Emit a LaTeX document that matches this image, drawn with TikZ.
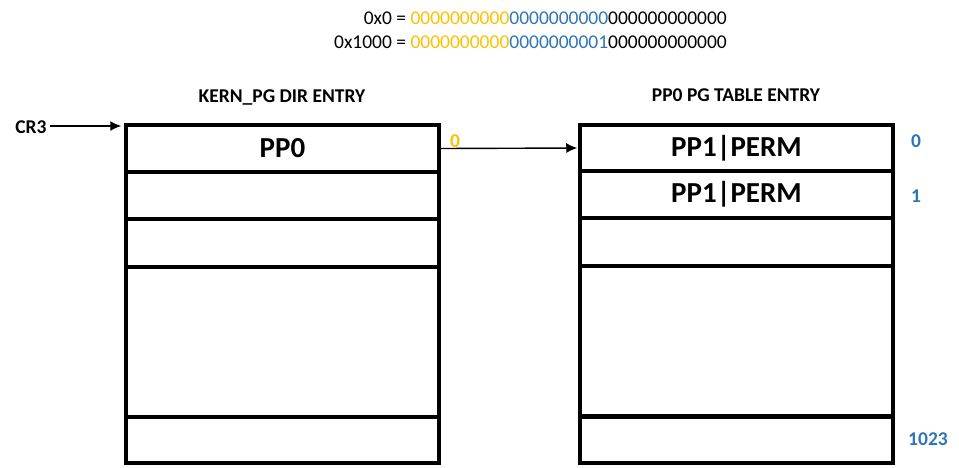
\documentclass[tikz,border=0pt]{standalone}
\usepackage{fontspec}
\setmainfont{Carlito}
\usetikzlibrary{arrows.meta}
\definecolor{ylw}{HTML}{FFC000}
\definecolor{blu}{HTML}{2E75B6}
\tikzset{
  row/.style={draw=black, line width=3.5pt, minimum width=313pt, inner sep=0pt, font=\fontsize{29}{33}\selectfont\bfseries},
  arr/.style={line width=1.4pt, -{Latex[length=11pt,width=10pt]}},
  ttl/.style={inner sep=0pt, font=\fontsize{19.5}{23}\selectfont\bfseries},
  idx/.style={inner sep=0pt, text=blu, font=\fontsize{19.5}{23}\selectfont\bfseries},
  bits/.style={inner sep=0pt, anchor=east, font=\fontsize{19.5}{23}\selectfont}
}
\begin{document}
\begin{tikzpicture}[x=1pt,y=-1pt]
\useasboundingbox (0,0) rectangle (959,467);
% top bit strings
\node[bits] (b0) at (727,18) {0x0 = \textcolor{ylw}{0000000000}\textcolor{blu}{0000000000}000000000000};
\node[bits] (b1) at (727,42) {0x1000 = \textcolor{ylw}{0000000000}\textcolor{blu}{0000000001}000000000000};
% titles
\node[ttl] (t1) at (282,97) {KERN\_PG DIR ENTRY};
\node[ttl] (t2) at (736,95) {PP0 PG TABLE ENTRY};
% left table
\node[row, minimum height=47pt] (l1) at (282.5,148.5) {PP0};
\node[row, minimum height=47pt] (l2) at (282.5,195.5) {};
\node[row, minimum height=48pt] (l3) at (282.5,243) {};
\node[row, minimum height=150pt] (l4) at (282.5,342) {};
\node[row, minimum height=46pt] (l5) at (282.5,440) {};
% right table
\node[row, minimum height=46pt] (r1) at (736.5,148) {PP1|PERM};
\node[row, minimum height=47pt] (r2) at (736.5,194.5) {PP1|PERM};
\node[row, minimum height=48pt] (r3) at (736.5,242) {};
\node[row, minimum height=150pt] (r4) at (736.5,341) {};
\node[row, minimum height=46pt] (r5) at (736.5,440) {};
% CR3
\node[ttl] (cr3) at (31,127) {CR3};
\coordinate (c0) at (50,126);
\draw[arr, shorten >=3pt] (c0) -- (c0 -| l1.west);
% link
\draw[arr, shorten >=1pt] (l1.east) -- (r1.west);
\node[inner sep=0pt, text=ylw, font=\fontsize{19.5}{23}\selectfont\bfseries] (z0) at (455,141) {0};
% indices
\node[idx] (i0) at (916,141) {0};
\node[idx] (i1) at (916,196) {1};
\node[idx] (i2) at (928,439) {1023};
\end{tikzpicture}
\end{document}
